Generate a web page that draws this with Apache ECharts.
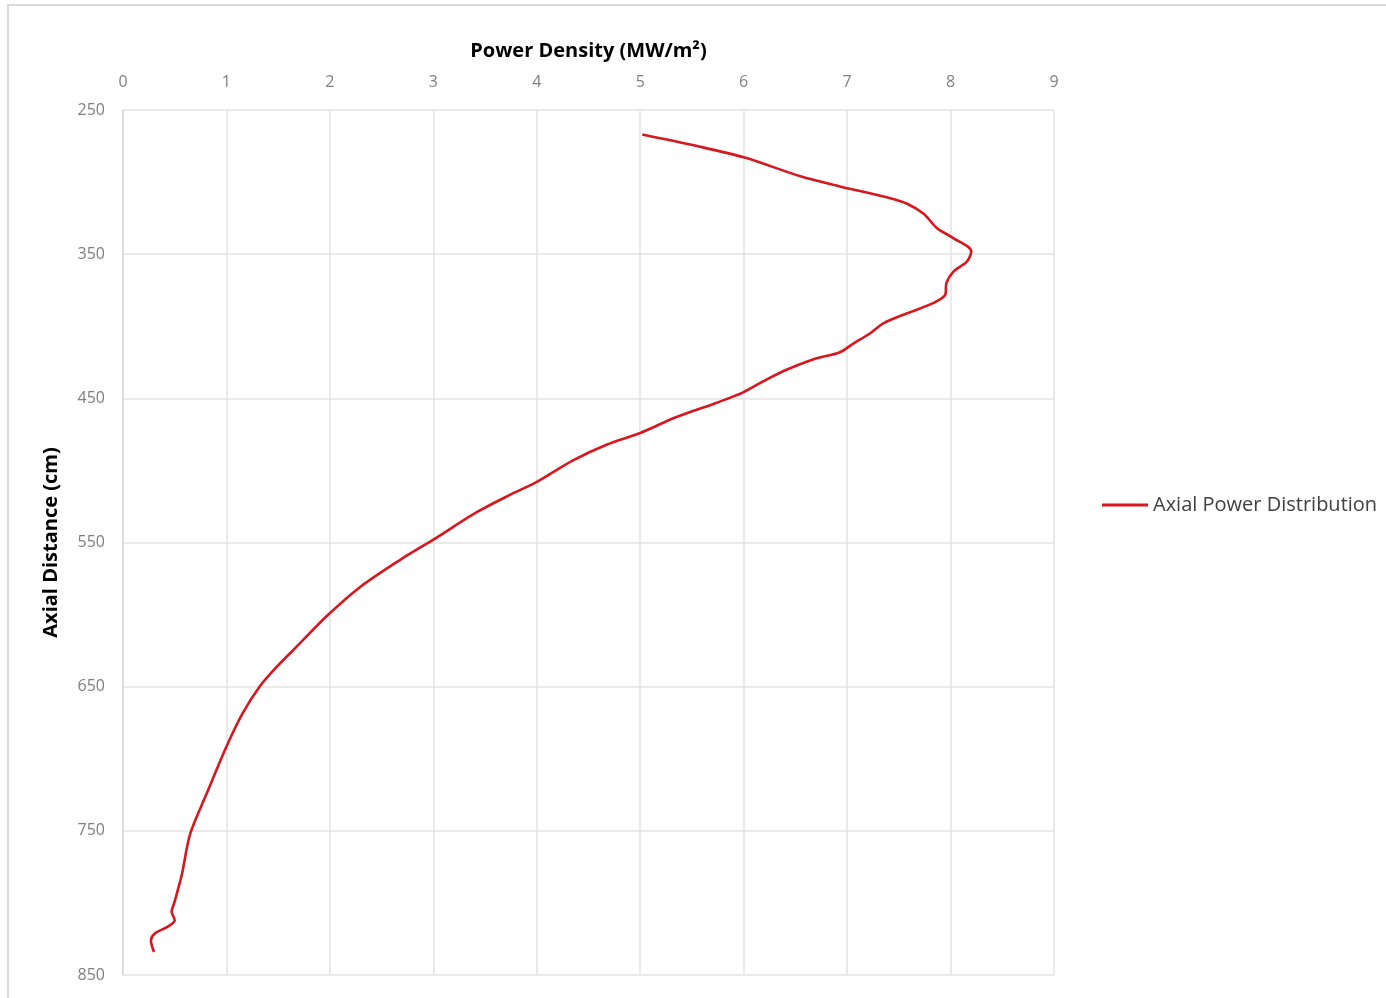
<!DOCTYPE html>
<html>
<head>
<meta charset="utf-8">
<title>Axial Power Distribution</title>
<script src="https://cdn.jsdelivr.net/npm/echarts@6/dist/echarts.min.js"></script>
<style>
  html, body { margin: 0; padding: 0; background: #ffffff; }
  #chart { width: 1386px; height: 998px; }
</style>
</head>
<body>
<div id="chart"></div>
<script>
// Power density (MW/m²) along the core height
const powerDensity = [
  5.02, 5.55, 6.01, 6.55, 6.93, 7.41, 7.58, 7.74, 7.87, 8.03,
  8.20, 8.16, 8.03, 7.96, 7.95, 7.83, 7.58, 7.35, 7.22, 7.06,
  6.93, 6.67, 6.42, 6.22, 5.99, 5.74, 5.35, 5.00, 4.68, 4.35,
  4.00, 3.74, 3.42, 3.00, 2.68, 2.29, 1.97, 1.71, 1.49, 1.32,
  1.16, 1.01, 0.81, 0.65, 0.57, 0.53, 0.50, 0.47, 0.50, 0.42,
  0.31, 0.27, 0.28, 0.30
];
// Axial distance (cm) matching each power density value
const axialDistance = [
  267, 275, 283, 296, 303, 311, 315, 322, 332, 339,
  348, 355, 362, 370, 378, 384, 391, 398, 405, 412,
  418, 423, 430, 437, 446, 453, 463, 474, 482, 493,
  508, 517, 529, 548, 562, 581, 601, 620, 636, 650,
  668, 690, 724, 752, 780, 791, 799, 806, 812, 817,
  821, 826, 830, 834
];
const seriesName = 'Axial Power Distribution';
const xTitle = 'Power Density (MW/m²)';
const yTitle = 'Axial Distance (cm)';

const chart = echarts.init(document.getElementById('chart'), null, { renderer: 'canvas' });

const points = powerDensity.map((p, i) => [p, axialDistance[i]]);

const tickFont = { color: '#7f7f7f', fontSize: 16, fontFamily: 'Open Sans' };
const titleFont = { color: '#000000', fontSize: 20, fontWeight: 'bold', fontFamily: 'Open Sans' };

chart.setOption({
  animation: false,
  backgroundColor: '#ffffff',
  graphic: [{
    type: 'rect',
    shape: { x: 8, y: 5, width: 1420, height: 1000 },
    style: { fill: 'none', stroke: '#d9d9d9', lineWidth: 2 },
    silent: true
  }],
  grid: { left: 123, right: 332, top: 110, bottom: 23, containLabel: false },
  legend: {
    left: 1097, top: 490, orient: 'vertical',
    itemWidth: 46, itemHeight: 3, itemGap: 10,
    icon: 'rect',
    textStyle: { color: '#404040', fontSize: 20, fontFamily: 'Open Sans' },
    data: [seriesName]
  },
  xAxis: {
    type: 'value', position: 'top', min: 0, max: 9, interval: 1,
    name: xTitle, nameLocation: 'middle', nameGap: 49,
    nameTextStyle: titleFont,
    axisLine: { show: false }, axisTick: { show: false },
    axisLabel: Object.assign({ margin: 20 }, tickFont),
    splitLine: { show: true, lineStyle: { color: '#e3e3e3', width: 1.5 } }
  },
  yAxis: {
    type: 'value', inverse: true, min: 250, max: 850, interval: 100,
    name: yTitle, nameLocation: 'middle', nameGap: 62, nameRotate: 90,
    nameTextStyle: titleFont,
    axisLine: { show: true, lineStyle: { color: '#d9d9d9', width: 1.5 } },
    axisTick: { show: false },
    axisLabel: Object.assign({ margin: 18 }, tickFont),
    splitLine: { show: true, lineStyle: { color: '#e3e3e3', width: 1.5 } }
  },
  series: [{
    name: seriesName,
    type: 'line',
    data: points,
    smooth: 0.3,
    showSymbol: false,
    symbol: 'none',
    lineStyle: { color: '#d8161d', width: 2.6 },
    itemStyle: { color: '#d8161d' }
  }]
});
</script>
</body>
</html>
